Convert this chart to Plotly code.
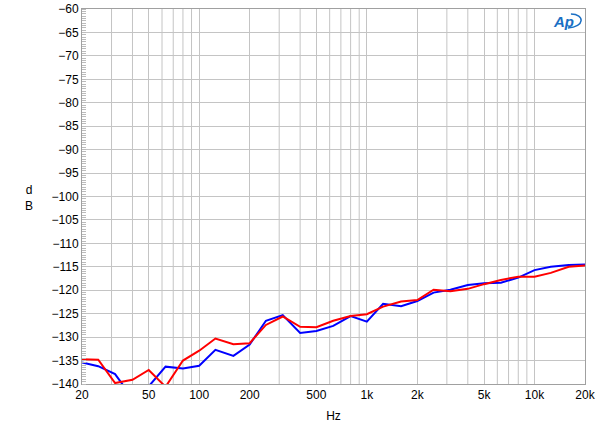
import plotly.graph_objects as go

freqs = [20, 25, 31.5, 40, 50, 63, 80, 100, 125, 160, 200, 250, 315, 400, 500, 630, 800,
         1000, 1250, 1600, 2000, 2500, 3150, 4000, 5000, 6300, 8000, 10000, 12500, 16000, 20000]
blue_db = [-135.4, -136.2, -137.9, -143.0, -140.5, -136.3, -136.7, -136.1, -132.7, -134.0, -131.6,
           -126.5, -125.3, -129.1, -128.7, -127.6, -125.5, -126.7, -122.9, -123.4, -122.3, -120.5,
           -119.9, -118.9, -118.5, -118.4, -117.3, -115.7, -115.0, -114.6, -114.5]
red_db = [-134.7, -134.8, -139.8, -139.1, -137.0, -140.6, -135.0, -132.9, -130.3, -131.5, -131.3,
          -127.4, -125.6, -127.8, -127.9, -126.5, -125.5, -125.1, -123.5, -122.4, -122.1, -119.9,
          -120.2, -119.7, -118.7, -117.8, -117.1, -117.1, -116.3, -115.0, -114.7]

x_tickvals = [20, 50, 100, 200, 500, 1000, 2000, 5000, 10000, 20000]
x_ticktext = ["20", "50", "100", "200", "500", "1k", "2k", "5k", "10k", "20k"]
x_gridvals = [30, 40, 60, 70, 80, 90, 300, 400, 600, 700, 800, 900,
              3000, 4000, 6000, 7000, 8000, 9000]
y_tickvals = list(range(-140, -59, 5))

GRID = "#c4c4c4"

fig = go.Figure()
fig.add_trace(go.Scatter(x=freqs, y=blue_db, mode="lines",
                         line=dict(color="#0000ff", width=2), showlegend=False))
fig.add_trace(go.Scatter(x=freqs, y=red_db, mode="lines",
                         line=dict(color="#ff0000", width=2), showlegend=False))

# extra vertical grid lines at intermediate decade values
for gv in x_gridvals:
    fig.add_shape(type="line", xref="x", yref="paper", x0=gv, x1=gv, y0=0, y1=1,
                  line=dict(color=GRID, width=1), layer="below")

fig.update_layout(
    width=600, height=431,
    margin=dict(l=82, r=15, t=9, b=47, autoexpand=False),
    paper_bgcolor="white", plot_bgcolor="white",
    font=dict(family="Liberation Sans, Arial, sans-serif", size=12, color="#000000"),
    xaxis=dict(type="log", range=[1.30103, 4.30103], automargin=False,
               tickvals=x_tickvals, ticktext=x_ticktext,
               showgrid=True, gridcolor=GRID, gridwidth=1,
               showline=True, linecolor="#a0a0a0", mirror=True,
               ticks="", zeroline=False,
               title=dict(text="Hz", font=dict(size=12), standoff=10)),
    yaxis=dict(range=[-140, -60], tickvals=y_tickvals, automargin=False,
               showgrid=True, gridcolor=GRID, gridwidth=1,
               showline=True, linecolor="#a0a0a0", mirror=True,
               ticks="", zeroline=False,
               minor=dict(dtick=0.5, ticks="inside", ticklen=4, tickcolor="#bbbbbb",
                          showgrid=False)),
)

fig.add_annotation(text="d<br>B", xref="paper", yref="paper", x=-0.118, y=0.497,
                   showarrow=False, font=dict(size=12), align="center")
# Ap logo
LOGO = "#1a6fc4"
fig.add_annotation(text="<i><b>Ap</b></i>", xref="paper", yref="paper", x=0.958, y=0.968,
                   xanchor="center", yanchor="middle",
                   showarrow=False, font=dict(size=15, color=LOGO, family="Liberation Sans"))
fig.add_shape(type="path", xref="paper", yref="paper",
              path="M 0.972 0.9867 C 1.0 0.9867, 1.0 0.952, 0.966 0.9493",
              line=dict(color=LOGO, width=1.5))

fig.write_html("out.html")
